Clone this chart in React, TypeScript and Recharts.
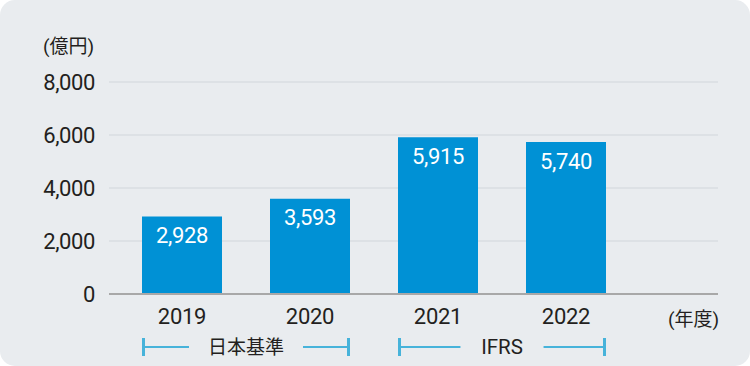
import React from "react";
import { BarChart, Bar, XAxis, YAxis, CartesianGrid, LabelList } from "recharts";

const years = ["2019", "2020", "2021", "2022"];
const revenue = [2928, 3593, 5915, 5740];
const yTicks = [0, 2000, 4000, 6000, 8000];
const eraLabels = ["日本基準", "IFRS"];
const eraStarts = [0, 2];
const yUnit = "(億円)";
const xUnit = "(年度)";

const data = years.map((y, i) => ({ year: y, value: revenue[i] }));

const W = 750;
const H = 366;
const xAxisHeight = 30;
const margin = { top: 82, right: 32, bottom: 72 - xAxisHeight, left: 0 };
const yAxisWidth = 109;
const padL = 9;
const padR = 88;
const plotW = W - margin.left - margin.right - yAxisWidth;
const step = (plotW - padL - padR) / years.length;
const barSize = 80;

const FONT = "Roboto, 'Noto Sans CJK JP', sans-serif";
const TEXT = "#231f20";
const BAR = "#0091d5";
const BRACKET = "#47b3da";

const fmt = (v: number) => v.toLocaleString("en-US");

const isCJK = (s: string) => Array.from(s).some((c) => c.charCodeAt(0) > 0x2e80);
const textWidth = (s: string, fs: number) =>
  Array.from(s).reduce((a, c) => a + (c.charCodeAt(0) > 0x2e80 ? fs : 0.55 * fs), 0);

const XTick = (props: any) => {
  const { x, y, payload, index } = props;
  const eraIdx = eraStarts.indexOf(index);
  let bracket = null;
  if (eraIdx >= 0) {
    const label = eraLabels[eraIdx];
    const fs = isCJK(label) ? 19 : 20.5;
    const left = x - barSize / 2;
    const right = x + step + barSize / 2;
    const mid = x + step / 2;
    const ly = y + 39;
    const half = textWidth(label, fs) / 2 + 19;
    bracket = (
      <g>
        <line x1={left} x2={mid - half} y1={ly} y2={ly} stroke={BRACKET} strokeWidth={2} />
        <line x1={mid + half} x2={right} y1={ly} y2={ly} stroke={BRACKET} strokeWidth={2} />
        <line x1={left + 1.5} x2={left + 1.5} y1={ly - 9} y2={ly + 9} stroke={BRACKET} strokeWidth={3} />
        <line x1={right - 1.5} x2={right - 1.5} y1={ly - 9} y2={ly + 9} stroke={BRACKET} strokeWidth={3} />
        <text x={mid} y={ly} dominantBaseline="central" textAnchor="middle" fontSize={fs} fill={TEXT} fontFamily={FONT}>
          {label}
        </text>
      </g>
    );
  }
  return (
    <g>
      <text x={x} y={y} dy="0.71em" textAnchor="middle" fontSize={22} fill={TEXT} fontFamily={FONT} letterSpacing={-0.3}>
        {payload.value}
      </text>
      {bracket}
    </g>
  );
};

export default function App() {
  return (
    <div
      style={{
        position: "absolute",
        left: 0,
        top: 0,
        width: W,
        height: H,
        background: "#e9ecef",
        borderRadius: 15,
        overflow: "hidden",
      }}
    >
      <BarChart width={W} height={H} data={data} margin={margin}>
        <CartesianGrid vertical={false} stroke="#dde1e5" strokeWidth={2} />
        <YAxis
          domain={[0, 8000]}
          ticks={yTicks}
          width={yAxisWidth}
          axisLine={false}
          tickLine={false}
          tickSize={0}
          tickMargin={14}
          tickFormatter={fmt}
          tick={{ fontSize: 22, fill: TEXT, fontFamily: FONT, letterSpacing: -0.4 }}
        />
        <XAxis
          dataKey="year"
          height={xAxisHeight}
          padding={{ left: padL, right: padR }}
          axisLine={{ stroke: "#a8a8a8", strokeWidth: 2 }}
          tickLine={false}
          tickSize={0}
          tickMargin={14}
          interval={0}
          tick={<XTick />}
        />
        <Bar dataKey="value" fill={BAR} barSize={barSize} isAnimationActive={false}>
          <LabelList
            dataKey="value"
            position="insideTop"
            offset={11}
            formatter={(v: any) => fmt(Number(v))}
            style={{ fontSize: 22, fill: "#ffffff", fontFamily: FONT, letterSpacing: -0.4 }}
          />
        </Bar>
        <text x={43} y={46.5} dominantBaseline="central" fontSize={19} fill={TEXT} fontFamily={FONT}>
          {yUnit}
        </text>
        <text x={668} y={319} dominantBaseline="central" fontSize={19} fill={TEXT} fontFamily={FONT}>
          {xUnit}
        </text>
      </BarChart>
    </div>
  );
}
